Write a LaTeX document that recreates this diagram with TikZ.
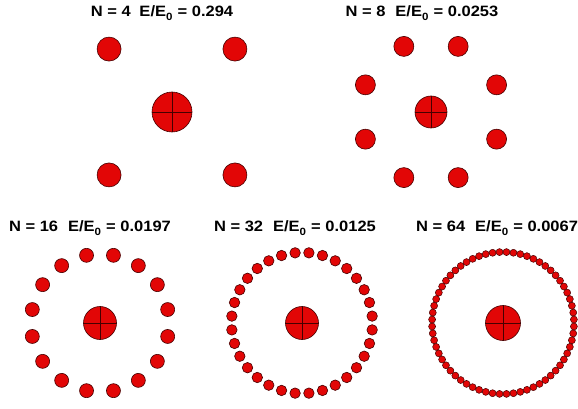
\documentclass[tikz,border=0pt]{standalone}
\usepackage{fontspec}
\setsansfont{Liberation Sans}
\usepackage{tikz}
\usetikzlibrary{calc}
\definecolor{ionred}{RGB}{226,6,6}
\definecolor{ionrim}{RGB}{70,0,0}
\tikzset{
  ion/.style={circle,draw=ionrim,line width=0.6pt,fill=ionred,inner sep=0pt},
  title/.style={font=\sffamily\bfseries\fontsize{15}{17}\selectfont,inner sep=0pt}
}
\newcommand{\EE}{E/E\raisebox{-1.5pt}{\textsubscript{0}}}
\newcommand{\wide}[1]{\scalebox{1.1}[1]{#1}}

\begin{document}
\begin{tikzpicture}[x=1pt,y=-1pt]
	\useasboundingbox (0,0) rectangle (578,409);
	
	% titles
	\node[title](t4) at (162,13){\wide{N = 4\hspace{8pt}\EE{} = 0.294}};
	\node[title](t8) at (422,13){\wide{N = 8\hspace{9pt}\EE{} = 0.0253}};
	\node[title](t16) at (90,228){\wide{N = 16\hspace{9pt}\EE{} = 0.0197}};
	\node[title](t32) at (295,228){\wide{N = 32\hspace{9pt}\EE{} = 0.0125}};
	\node[title,anchor=west](t64) at (416,228){\wide{N = 64\hspace{9pt}\EE{} = 0.0067}};
	
	% N = 4
	\foreach \i in {0,...,3}
		\node[ion,minimum size=24pt](s4-\i) at ($(172,112)+(45+90*\i:89)$){};
	\node[ion,minimum size=40pt](c4) at (172,112){};
	
	% N = 8
	\foreach \i in {0,...,7}
		\node[ion,minimum size=20pt](s8-\i) at ($(431,112)+(22.5+45*\i:71)$){};
	\node[ion,minimum size=32pt](c8) at (431,112){};
	
	% N = 16
	\foreach \i in {0,...,15}
		\node[ion,minimum size=14pt](s16-\i) at ($(100,323)+(11.25+22.5*\i:69)$){};
	\node[ion,minimum size=33pt](c16) at (100,323){};
	
	% N = 32
	\foreach \i in {0,...,31}
		\node[ion,minimum size=10.5pt](s32-\i) at ($(302,323)+(5.625+11.25*\i:70.5)$){};
	\node[ion,minimum size=33pt](c32) at (302,323){};
	
	% N = 64
	\foreach \i in {0,...,63}
		\node[ion,minimum size=7pt,line width=0.5pt](s64-\i) at ($(503,323)+(2.8125+5.625*\i:71)$){};
	\node[ion,minimum size=35pt](c64) at (503,323){};
	
	% cross hairs
	\foreach \c in {c4,c8,c16,c32,c64}{
		\draw[ionrim,line width=0.5pt] (\c.west)--(\c.east);
		\draw[ionrim,line width=0.5pt] (\c.north)--(\c.south);
	}
\end{tikzpicture}
\end{document}
